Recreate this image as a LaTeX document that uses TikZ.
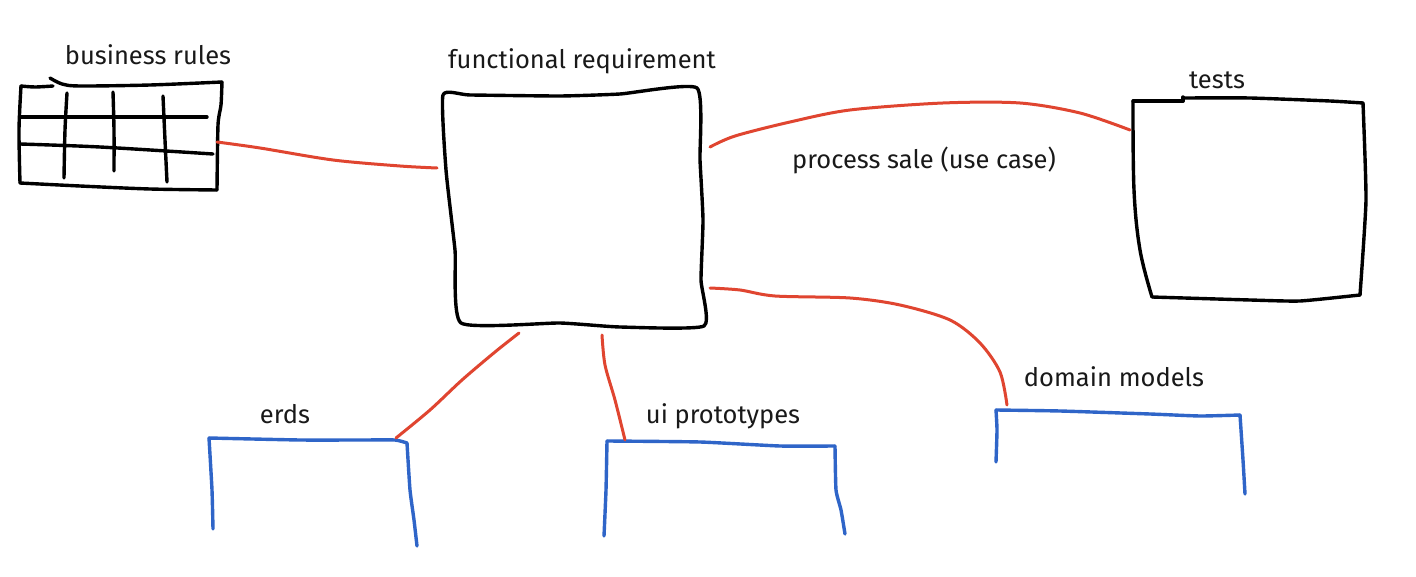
\documentclass[tikz,border=0pt]{standalone}
\usepackage{fontspec}
\setmainfont{Fira Sans}
\begin{document}
\begin{tikzpicture}[x=1pt,y=-1pt,
  ink/.style={draw=black,line width=3.4pt,line cap=round,line join=round},
  redline/.style={draw=linkred,line width=3pt,line cap=round,line join=round},
  blueline/.style={draw=boxblue,line width=3.4pt,line cap=round,line join=round},
  lbl/.style={font=\fontsize{25.5}{30}\selectfont,inner sep=0pt,text=black!90}]
\definecolor{linkred}{HTML}{E04530}
\definecolor{boxblue}{HTML}{2F65C8}
\useasboundingbox[fill=white] (0,0) rectangle (1416,577);

% labels
\node[lbl] (tbr) at (148,55) {business rules};
\node[lbl] (tfr) at (582,61) {functional requirement};
\node[lbl] (tts) at (1217,80) {tests};
\node[lbl] (tps) at (924,160) {process sale (use case)};
\node[lbl] (ter) at (285,414) {erds};
\node[lbl] (tui) at (723,416) {ui prototypes};
\node[lbl] (tdm) at (1114,377) {domain models};

% business rules grid
\draw[ink] plot[smooth] coordinates {(21,86) (35,87) (53,86)};
\draw[ink] plot[smooth] coordinates {(50,78) (62,84) (80,86) (150,85) (222,82)};
\draw[ink] plot[smooth] coordinates {(21,86) (19,130) (20,183)};
\draw[ink] plot[smooth] coordinates {(20,183) (80,186) (150,189) (217,190)};
\draw[ink] plot[smooth, tension=0.4] coordinates {(222,82) (221,105) (218,125) (217,190)};
\draw[ink] (20,117) -- (207,117);
\draw[ink] plot[smooth] coordinates {(20,144) (100,147) (213,154)};
\draw[ink] plot[smooth] coordinates {(67,93) (65,130) (64,178)};
\draw[ink] plot[smooth] coordinates {(113,92) (114,130) (114,171)};
\draw[ink] plot[smooth] coordinates {(163,96) (165,140) (167,182)};
\coordinate (brR) at (217,142);

% functional requirement box
\draw[ink] plot[smooth cycle, tension=0.3] coordinates {(443,95) (470,95) (560,96) (620,94) (697,88) (700,160) (703,220) (701,280) (704,326) (620,327) (560,323) (461,323) (455,250) (446,170)};
\coordinate (frL) at (437,168);
\coordinate (frR1) at (710,147);
\coordinate (frR2) at (710,288);
\coordinate (frB1) at (519,333);
\coordinate (frB2) at (602,335);

% tests box
\draw[ink] plot[smooth, tension=0.3] coordinates {(1133,101) (1160,101) (1183,101)};
\draw[ink] (1183,101) -- (1183,97);
\draw[ink] plot[smooth, tension=0.3] coordinates {(1183,98) (1250,98) (1330,101) (1363,103)};
\draw[ink] plot[smooth, tension=0.3] coordinates {(1363,103) (1366,200) (1360,295)};
\draw[ink] plot[smooth, tension=0.3] coordinates {(1360,295) (1300,301) (1250,300) (1152,297)};
\draw[ink] plot[smooth, tension=0.6] coordinates {(1133,101) (1134,190) (1140,250) (1152,297)};
\coordinate (tsL) at (1130,130);

% blue boxes
\draw[blueline] plot[smooth, tension=0.3] coordinates {(213,529) (212,490) (209,438)};
\draw[blueline] plot[smooth, tension=0.3] coordinates {(209,438) (300,440) (360,440) (395,440) (407,443)};
\draw[blueline] plot[smooth, tension=0.3] coordinates {(407,443) (410,490) (414,520) (417,546)};
\coordinate (erT) at (396,438);

\draw[blueline] plot[smooth, tension=0.3] coordinates {(604,536) (606,490) (607,441)};
\draw[blueline] plot[smooth, tension=0.3] coordinates {(607,441) (700,442) (780,446) (835,446)};
\draw[blueline] plot[smooth, tension=0.3] coordinates {(835,446) (836,490) (841,510) (845,534)};
\coordinate (uiT) at (625,440);

\draw[blueline] plot[smooth, tension=0.3] coordinates {(996,462) (997,430) (996,410)};
\draw[blueline] plot[smooth, tension=0.3] coordinates {(996,410) (1060,411) (1150,414) (1200,416) (1240,415)};
\draw[blueline] plot[smooth, tension=0.3] coordinates {(1240,415) (1243,460) (1245,494)};
\coordinate (dmT) at (1007,405);

% red connectors
\draw[redline] plot[smooth] coordinates {(brR) (260,148) (333,160) (400,166) (frL)};
\draw[redline] plot[smooth] coordinates {(frR1) (735,136) (790,122) (850,110) (943,103) (1020,103) (1080,113) (tsL)};
\draw[redline] plot[smooth] coordinates {(frR2) (740,290) (775,296) (850,298) (900,305) (950,320) (980,343) (1000,372) (dmT)};
\draw[redline] plot[smooth] coordinates {(frB1) (495,352) (462,380) (430,410) (erT)};
\draw[redline] plot[smooth] coordinates {(frB2) (605,365) (615,400) (uiT)};
\end{tikzpicture}
\end{document}
